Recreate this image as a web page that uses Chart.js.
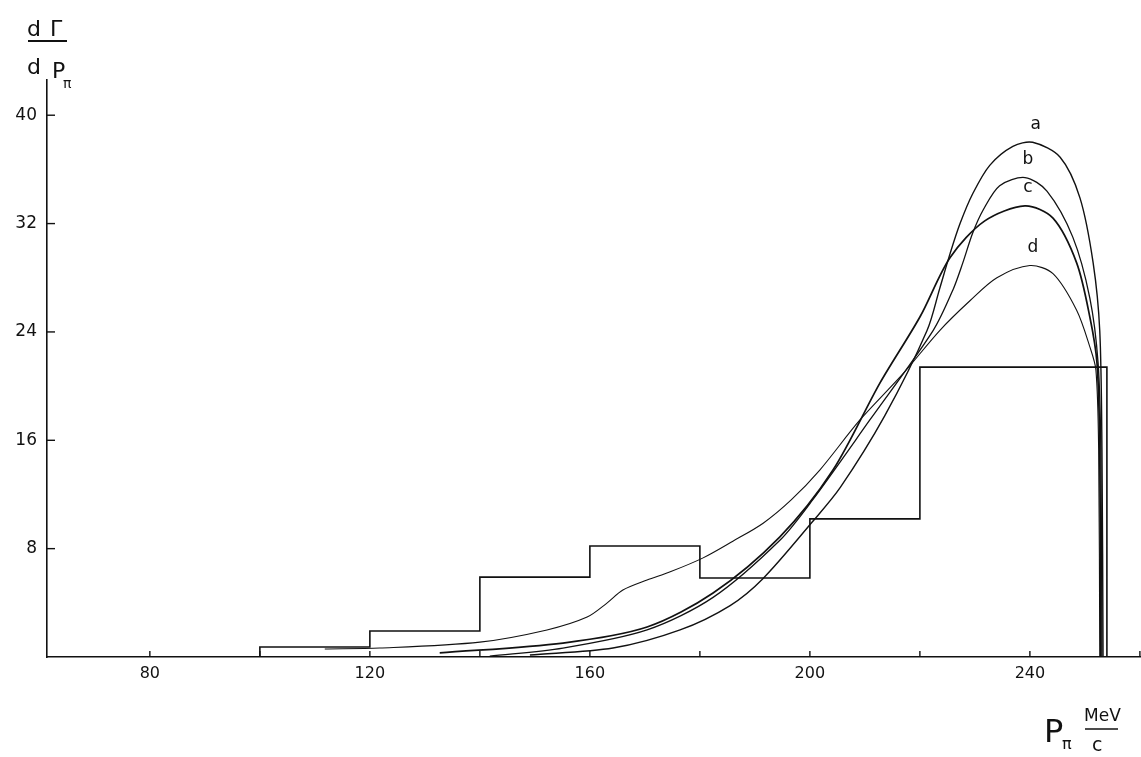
<!DOCTYPE html>
<html>
<head>
<meta charset="utf-8">
<script src="https://cdn.jsdelivr.net/npm/chart.js@4.4.1/dist/chart.umd.min.js"></script>
<style>
  body { margin: 0; background: #fff; }
  canvas { display: block; }
</style>
</head>
<body>
<canvas id="myChart" width="1141" height="757"></canvas>
<script>
// histogram (bin edges in MeV/c, heights)
const binEdges = [100, 120, 140, 160, 180, 200, 220, 254];
const binHeights = [0.74, 1.92, 5.9, 8.19, 5.83, 10.2, 21.4];

// theoretical curves a, b, c, d
const momA = [149.1, 164.2, 176.4, 185.5, 191.5, 200.5, 205.5, 213.6, 221.3, 223.6, 225.5, 227.3, 229.6, 232.7, 236.9, 240.5, 245.5, 249.1, 251.5, 252.7, 253.1, 253.3];
const rateA = [0.15, 0.66, 2.0, 3.8, 5.8, 10.0, 12.5, 17.8, 24.1, 27.2, 29.8, 32.0, 34.2, 36.3, 37.7, 38.0, 36.9, 33.9, 29.1, 24.1, 15.3, 0];

const momB = [141.8, 155.1, 170.4, 182.4, 194.5, 200.5, 210.9, 222.4, 226.0, 227.8, 229.6, 231.5, 234.5, 239.1, 243.1, 247.8, 250.9, 252.4, 252.9, 253.1];
const rateB = [0.07, 0.66, 2.0, 4.4, 8.6, 11.6, 17.5, 24.1, 27.1, 29.1, 31.3, 33.0, 34.8, 35.4, 34.4, 31.0, 26.5, 21.7, 15.3, 0];

const momC = [132.7, 155.1, 170.4, 182.4, 194.5, 204.2, 212.7, 220.0, 225.5, 231.8, 239.1, 244.2, 248.5, 250.9, 252.2, 252.7, 252.9];
const rateC = [0.3, 1.03, 2.21, 4.72, 8.85, 13.8, 20.2, 25.1, 29.5, 32.2, 33.3, 32.4, 29.1, 25.1, 21.7, 15.3, 0];

const momD = [111.8, 121.8, 140.0, 152.2, 159.5, 163.1, 166.0, 170.4, 174.5, 180.5, 186.0, 191.5, 196.6, 201.8, 209.1, 216.9, 223.6, 229.1, 234.0, 240.0, 244.2, 248.5, 250.9, 252.0, 252.5, 252.7];
const rateD = [0.59, 0.66, 1.1, 2.0, 2.95, 3.98, 4.94, 5.68, 6.27, 7.3, 8.55, 9.88, 11.6, 13.8, 17.5, 20.9, 24.1, 26.3, 28.0, 28.9, 28.3, 25.6, 22.9, 21.2, 15.3, 0];

const curveNames = ["a", "b", "c", "d"];

// axis ticks
const xTickLabels = [80, 120, 160, 200, 240];
const yTickLabels = [8, 16, 24, 32, 40];

function toPoints(xs, ys) {
  return xs.map((x, i) => ({ x: x, y: ys[i] }));
}

// outline of the histogram, corner by corner
const histPoints = [{ x: binEdges[0], y: 0 }];
binHeights.forEach((h, i) => {
  histPoints.push({ x: binEdges[i], y: h });
  histPoints.push({ x: binEdges[i + 1], y: h });
});
histPoints.push({ x: binEdges[binEdges.length - 1], y: 0 });

const curveStyle = {
  showLine: true,
  pointRadius: 0,
  borderColor: "#111",
  fill: false,
  tension: 0.3,
};

const sketchPlugin = {
  id: "sketch",
  afterDraw(chart) {
    const ctx = chart.ctx;
    const xs = chart.scales.x;
    const ys = chart.scales.y;
    ctx.save();
    ctx.strokeStyle = "#111";
    ctx.lineWidth = 1.4;
    // inward tick marks
    xs.ticks.forEach((t) => {
      const px = xs.getPixelForValue(t.value);
      ctx.beginPath();
      ctx.moveTo(px, ys.bottom);
      ctx.lineTo(px, ys.bottom - 6);
      ctx.stroke();
    });
    ys.ticks.forEach((t) => {
      if (t.value === 0) return;
      const py = ys.getPixelForValue(t.value);
      ctx.beginPath();
      ctx.moveTo(xs.left, py);
      ctx.lineTo(xs.left + 8, py);
      ctx.stroke();
    });

    // curve letters above each peak
    ctx.fillStyle = "#111";
    ctx.font = "17px 'DejaVu Sans'";
    ctx.textAlign = "center";
    ctx.textBaseline = "middle";
    curveNames.forEach((name, i) => {
      const data = chart.data.datasets[i + 1].data;
      let top = data[0];
      data.forEach((p) => { if (p.y > top.y) top = p; });
      ctx.fillText(name, xs.getPixelForValue(top.x) + 3, ys.getPixelForValue(top.y) - 18);
    });

    // y axis title dΓ / dPπ
    ctx.font = "22px 'DejaVu Sans'";
    ctx.textAlign = "left";
    ctx.textBaseline = "alphabetic";
    ctx.fillText("d", 27, 36);
    ctx.fillText("\u0393", 50, 36);
    ctx.beginPath();
    ctx.moveTo(28, 41);
    ctx.lineTo(67, 41);
    ctx.lineWidth = 1.8;
    ctx.stroke();
    ctx.fillText("d", 27, 74);
    ctx.fillText("P", 52, 78);
    ctx.font = "14px 'DejaVu Sans'";
    ctx.fillText("\u03C0", 63, 88);

    // x axis title Pπ MeV/c
    ctx.font = "32px 'DejaVu Sans'";
    ctx.fillText("P", 1044, 742);
    ctx.font = "16px 'DejaVu Sans'";
    ctx.fillText("\u03C0", 1062, 749);
    ctx.font = "17px 'DejaVu Sans'";
    ctx.fillText("MeV", 1084, 721);
    ctx.beginPath();
    ctx.moveTo(1085, 729);
    ctx.lineTo(1118, 729);
    ctx.lineWidth = 1.3;
    ctx.stroke();
    ctx.font = "19px 'DejaVu Sans'";
    ctx.fillText("c", 1092, 751);
    ctx.restore();
  },
};

const ctx = document.getElementById("myChart").getContext("2d");
const myChart = new Chart(ctx, {
  type: "scatter",
  data: {
    datasets: [
      {
        label: "histogram",
        data: histPoints,
        showLine: true,
        pointRadius: 0,
        borderColor: "#111",
        borderWidth: 1.6,
        fill: false,
      },
      Object.assign({ label: "a", data: toPoints(momA, rateA), borderWidth: 1.4 }, curveStyle),
      Object.assign({ label: "b", data: toPoints(momB, rateB), borderWidth: 1.3 }, curveStyle),
      Object.assign({ label: "c", data: toPoints(momC, rateC), borderWidth: 1.7 }, curveStyle),
      Object.assign({ label: "d", data: toPoints(momD, rateD), borderWidth: 1.1 }, curveStyle),
    ],
  },
  options: {
    responsive: false,
    animation: false,
    layout: { padding: { top: 80, right: 0, bottom: 0, left: 0 } },
    plugins: {
      legend: { display: false },
      tooltip: { enabled: false },
    },
    scales: {
      x: {
        type: "linear",
        min: 61.3,
        max: 260.2,
        afterFit: (scale) => { scale.height = 100; },
        afterBuildTicks: (scale) => {
          const ticks = [];
          for (let v = 80; v <= 260; v += 20) ticks.push({ value: v });
          scale.ticks = ticks;
        },
        ticks: {
          autoSkip: false,
          maxRotation: 0,
          padding: 0,
          color: "#111",
          font: { family: "'DejaVu Sans'", size: 16, lineHeight: 2.1 },
          callback: (v) => (xTickLabels.includes(v) ? String(v) : ""),
        },
        grid: { display: true, drawOnChartArea: false, drawTicks: false },
        border: { display: true, color: "#111", width: 1.6 },
      },
      y: {
        type: "linear",
        min: 0,
        max: 42.6,
        afterFit: (scale) => { scale.width = 47; },
        afterBuildTicks: (scale) => {
          scale.ticks = [0].concat(yTickLabels).map((v) => ({ value: v }));
        },
        ticks: {
          padding: 10,
          color: "#111",
          font: { family: "'DejaVu Sans'", size: 17 },
          callback: (v) => (yTickLabels.includes(v) ? String(v) : ""),
        },
        grid: { display: true, drawOnChartArea: false, drawTicks: false },
        border: { display: true, color: "#111", width: 1.6 },
      },
    },
  },
  plugins: [sketchPlugin],
});
</script>
</body>
</html>
